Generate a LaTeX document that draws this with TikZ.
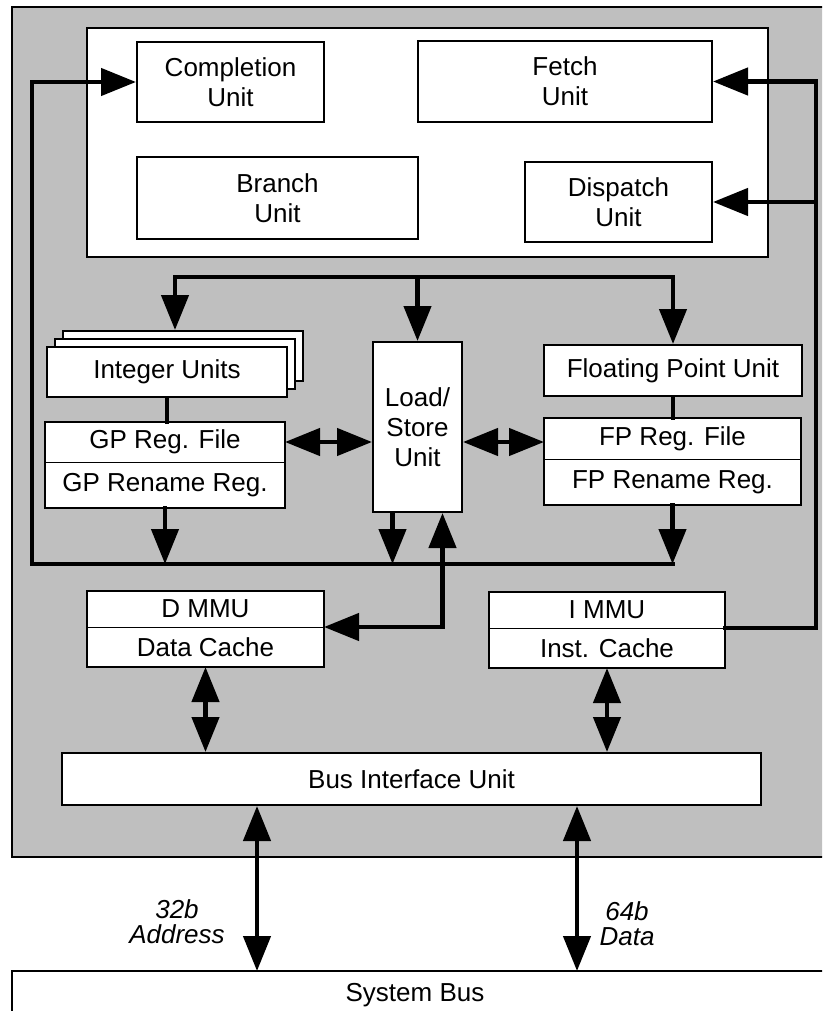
\documentclass[tikz,border=0pt]{standalone}
\usepackage{fontspec}
\setmainfont{Liberation Sans}
\usepackage{xcolor}
\usetikzlibrary{arrows.meta, positioning, calc}

\definecolor{chipgray}{RGB}{191,191,191}

\tikzset{
  unit/.style={draw, line width=2pt, fill=white, inner sep=0pt, align=center,
    font=\fontsize{26}{30}\selectfont},
  half/.style={draw, line width=0.8pt, fill=white, inner sep=0pt, outer sep=0pt,
    minimum width=240pt, font=\fontsize{26}{30}\selectfont},
  bus/.style={line width=4.5pt, line cap=rect},
  tip/.style={-{Triangle[length=35pt, width=27pt]}},
  twotip/.style={{Triangle[length=35pt, width=27pt]}-{Triangle[length=35pt, width=27pt]}},
  buslabel/.style={align=center, font=\fontsize{26}{25}\selectfont\itshape},
}

\begin{document}
\begin{tikzpicture}[x=1pt, y=-1pt]
    \useasboundingbox (0,0) rectangle (822,1011);
    \clip (0,0) rectangle (822,1011);

    % chip
    \filldraw[fill=chipgray, line width=2pt] (12,7) rectangle (900,857);

    % instruction side
    \node[unit, minimum width=681pt, minimum height=229pt] (core) at (427.5,142.5) {};
    \node[unit, minimum width=187pt, minimum height=80pt] (compl) at (230.5,82) {Completion\\Unit};
    \node[unit, minimum width=294pt, minimum height=81pt] (fetch) at (565,81.5) {Fetch\\Unit};
    \node[unit, minimum width=281pt, minimum height=82pt] (branch) at (277.5,198) {Branch\\Unit};
    \node[unit, minimum width=187pt, minimum height=80pt] (dispatch) at (618.5,202) {Dispatch\\Unit};

    % execution units
    \node[unit, minimum width=240pt, minimum height=50pt] (intuC) at (183,356) {};
    \node[unit, minimum width=240pt, minimum height=50pt] (intuB) at (175,364) {};
    \node[unit, minimum width=240pt, minimum height=50pt] (intu) at (167,372) {Integer Units};
    \node[unit, minimum width=89pt, minimum height=170pt] (lsu) at (417.5,427) {Load/\\Store\\Unit};
    \node[unit, minimum width=258pt, minimum height=51pt] (fpu) at (673,370.5) {Floating Point Unit};

    % register files
    \node[half, minimum height=40pt] (gpreg) at (165,442) {GP Reg. File};
    \node[half, minimum height=46pt, below=0pt of gpreg] (gpren) {GP Rename Reg.};
    \draw[line width=2pt] (gpreg.north west) rectangle (gpren.south east);
    \node[half, minimum width=257pt, minimum height=41pt] (fpreg) at (672.5,438.5) {FP Reg. File};
    \node[half, minimum width=257pt, minimum height=46pt, below=0pt of fpreg] (fpren) {FP Rename Reg.};
    \draw[line width=2pt] (fpreg.north west) rectangle (fpren.south east);

    % MMUs and caches
    \node[half, minimum width=237pt, minimum height=36pt] (dmmu) at (205.5,609) {D MMU};
    \node[half, minimum width=237pt, minimum height=40pt, below=0pt of dmmu] (dcache) {Data Cache};
    \draw[line width=2pt] (dmmu.north west) rectangle (dcache.south east);
    \node[half, minimum width=236pt, minimum height=36pt] (immu) at (607,610) {I MMU};
    \node[half, minimum width=236pt, minimum height=40pt, below=0pt of immu] (icache) {Inst. Cache};
    \draw[line width=2pt] (immu.north west) rectangle (icache.south east);

    \node[unit, minimum width=699pt, minimum height=52pt] (biu) at (411.5,779) {Bus Interface Unit};

    % system bus
    \node[unit, draw=none, minimum width=804pt, minimum height=46pt, anchor=north] (sysbus) at (415,971) {System Bus};
    \draw[line width=2pt] (sysbus.south west) -- (sysbus.north west) -- ++(900,0);

    % bus lines
    \coordinate (fbL) at (32,0);
    \coordinate (fbR) at (816,0);
    \coordinate (iss) at (0,277);
    \coordinate (res) at (0,564);
    \coordinate (lsout) at ([xshift=-25pt]lsu.south);
    \coordinate (lsin) at ([xshift=25pt]lsu.south);
    \coordinate (addr) at (257,0);
    \coordinate (data) at (577,0);

    % issue
    \draw[bus, tip] (fpu.north |- iss) -- (intuB.north |- iss) -- (intuB.north |- intuC.north);
    \draw[bus, tip] (lsu.north |- iss) -- (lsu.north);
    \draw[bus, tip] (fpu.north |- iss) -- (fpu.north);
    \draw[bus] (intu.south) -- (intu.south |- gpreg.north);
    \draw[bus] (fpu.south) -- (fpu.south |- fpreg.north);

    % results back to completion
    \draw[bus, tip] (fpren.south |- res) -- (fbL |- res) -- (fbL |- compl.west) -- (compl.west);
    \draw[bus, tip] (gpren.south) -- (gpren.south |- res);
    \draw[bus, tip] (lsout) -- (lsout |- res);
    \draw[bus, tip] (fpren.south) -- (fpren.south |- res);

    % load/store paths
    \draw[bus, twotip] (gpreg.east) -- (gpreg.east -| lsu.west);
    \draw[bus, twotip] (lsu.east |- gpreg.east) -- (fpreg.west |- gpreg.east);
    \draw[bus, twotip] (dcache.north east) -| (lsin);

    % instruction fetch
    \draw[bus, tip] (icache.north east) -- (fbR |- icache.north east) -- (fbR |- fetch.east) -- (fetch.east);
    \draw[bus, tip] (fbR |- dispatch.east) -- (dispatch.east);

    % caches and system bus
    \draw[bus, twotip] (dcache.south) -- (dcache.south |- biu.north);
    \draw[bus, twotip] (icache.south) -- (icache.south |- biu.north);
    \draw[bus, twotip] (biu.south -| addr) -- (sysbus.north -| addr);
    \draw[bus, twotip] (biu.south -| data) -- (sysbus.north -| data);

    \node[buslabel] (addrlbl) at (177,922) {32b\\Address};
    \node[buslabel] (datalbl) at (627,924) {64b\\Data};
\end{tikzpicture}
\end{document}
